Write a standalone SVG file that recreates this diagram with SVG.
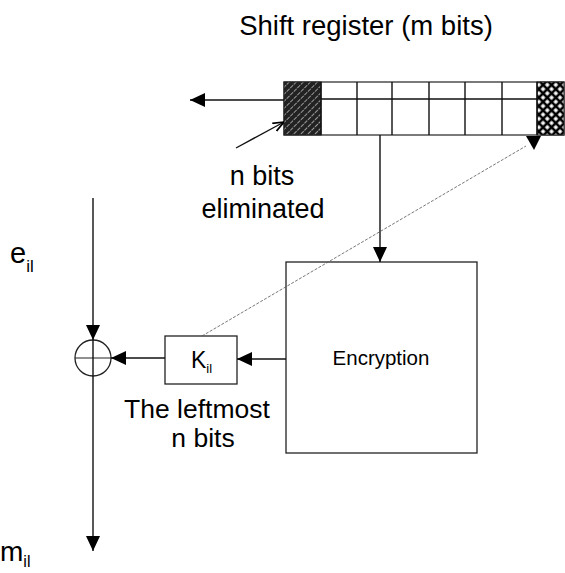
<svg xmlns="http://www.w3.org/2000/svg" width="565" height="573" viewBox="0 0 565 573">
  <style>
    .ln { stroke: #111; stroke-width: 1.4; fill: none; }
    .thin { stroke: #555; stroke-width: 0.8; fill: none; stroke-dasharray: 3 1.5; }
    .box { stroke: #222; stroke-width: 1.3; fill: #fff; }
    .txt { font-family: "Liberation Sans", Arial, sans-serif; fill: #000; }
  </style>
  <defs>
    <marker id="ah" viewBox="0 0 15 14" refX="15" refY="7" markerWidth="15" markerHeight="14" markerUnits="userSpaceOnUse" orient="auto">
      <path d="M0,0 L15,7 L0,14 z" fill="#000"/>
    </marker>
    <marker id="ahOpen" viewBox="0 0 10 10" refX="10" refY="5" markerWidth="11" markerHeight="11" markerUnits="userSpaceOnUse" orient="auto">
      <path d="M0,1 L10,5 L0,9" fill="none" stroke="#000" stroke-width="1.5"/>
    </marker>
    <pattern id="hatch" width="5" height="5" patternUnits="userSpaceOnUse" patternTransform="rotate(-45)">
      <rect width="5" height="5" fill="#222"/>
      <line x1="0" y1="2.5" x2="5" y2="2.5" stroke="#aaa" stroke-width="0.9" stroke-dasharray="2 1"/>
    </pattern>
    <pattern id="cross" width="6" height="6" patternUnits="userSpaceOnUse" patternTransform="rotate(45)">
      <rect width="6" height="6" fill="#000"/>
      <rect x="1.3" y="1.3" width="3.4" height="3.4" fill="#fff"/>
    </pattern>
  </defs>

  <text class="txt" x="366" y="35" font-size="27.5" text-anchor="middle">Shift register (m bits)</text>

  <!-- shift register: hatched head cell, six plain cells, cross-hatched tail cell -->
  <g id="register">
    <rect x="284" y="82" width="280" height="53" fill="#fff" stroke="#222" stroke-width="1.2"/>
    <rect x="284" y="82" width="37" height="53" fill="url(#hatch)" stroke="#222" stroke-width="1"/>
    <rect x="537" y="82" width="27" height="53" fill="url(#cross)" stroke="#222" stroke-width="1"/>
    <path class="ln" d="M321,99 H537 M321,82 V135 M357,82 V135 M392,82 V135 M429,82 V135 M465,82 V135 M502,82 V135 M537,82 V135" stroke-width="1.2"/>
  </g>

  <g id="encryption">
    <rect class="box" x="286" y="262" width="191" height="191"/>
    <text class="txt" x="381" y="365" font-size="20.5" text-anchor="middle">Encryption</text>
  </g>

  <g id="key">
    <rect class="box" x="165" y="336" width="72" height="48"/>
    <text class="txt" x="191" y="368" font-size="23">K<tspan font-size="13" dy="5">il</tspan></text>
  </g>

  <g id="xor">
    <circle cx="93" cy="358" r="18" fill="none" stroke="#222" stroke-width="1.3"/>
    <path d="M75,358 H111" stroke="#222" stroke-width="1.1"/>
  </g>

  <g id="labels">
    <text class="txt" x="262" y="185" font-size="27" text-anchor="middle">n bits</text>
    <text class="txt" x="263" y="218" font-size="27" text-anchor="middle">eliminated</text>
    <text class="txt" x="197" y="418" font-size="26.5" text-anchor="middle">The leftmost</text>
    <text class="txt" x="203" y="447" font-size="26.5" text-anchor="middle">n bits</text>
    <text class="txt" x="10" y="263" font-size="29">e<tspan font-size="17" dy="9">il</tspan></text>
    <text class="txt" x="0" y="561" font-size="28">m<tspan font-size="16" dy="6">il</tspan></text>
  </g>

  <g id="connectors">
    <!-- bits shifted out on the left -->
    <line class="ln" x1="284" y1="100" x2="190" y2="100" marker-end="url(#ah)"/>
    <!-- pointer to the eliminated bits -->
    <line class="ln" x1="236" y1="148" x2="284" y2="122" marker-end="url(#ahOpen)"/>
    <!-- register contents into encryption -->
    <line class="ln" x1="380" y1="135" x2="380" y2="262" marker-end="url(#ah)"/>
    <!-- encryption output to key -->
    <line class="ln" x1="286" y1="359" x2="237" y2="359" marker-end="url(#ah)"/>
    <!-- key into XOR -->
    <line class="ln" x1="165" y1="358" x2="111" y2="358" marker-end="url(#ah)"/>
    <!-- ciphertext into XOR -->
    <line class="ln" x1="93" y1="198" x2="93" y2="340" marker-end="url(#ah)"/>
    <!-- XOR output, drawn through the circle -->
    <line class="ln" x1="93" y1="340" x2="93" y2="551" marker-end="url(#ah)"/>
    <!-- key bits fed back into the register tail -->
    <line class="thin" x1="202" y1="336" x2="526" y2="146"/>
    <path d="M526,136 L541,136 L534,150 z" fill="#000"/>
  </g>
</svg>
